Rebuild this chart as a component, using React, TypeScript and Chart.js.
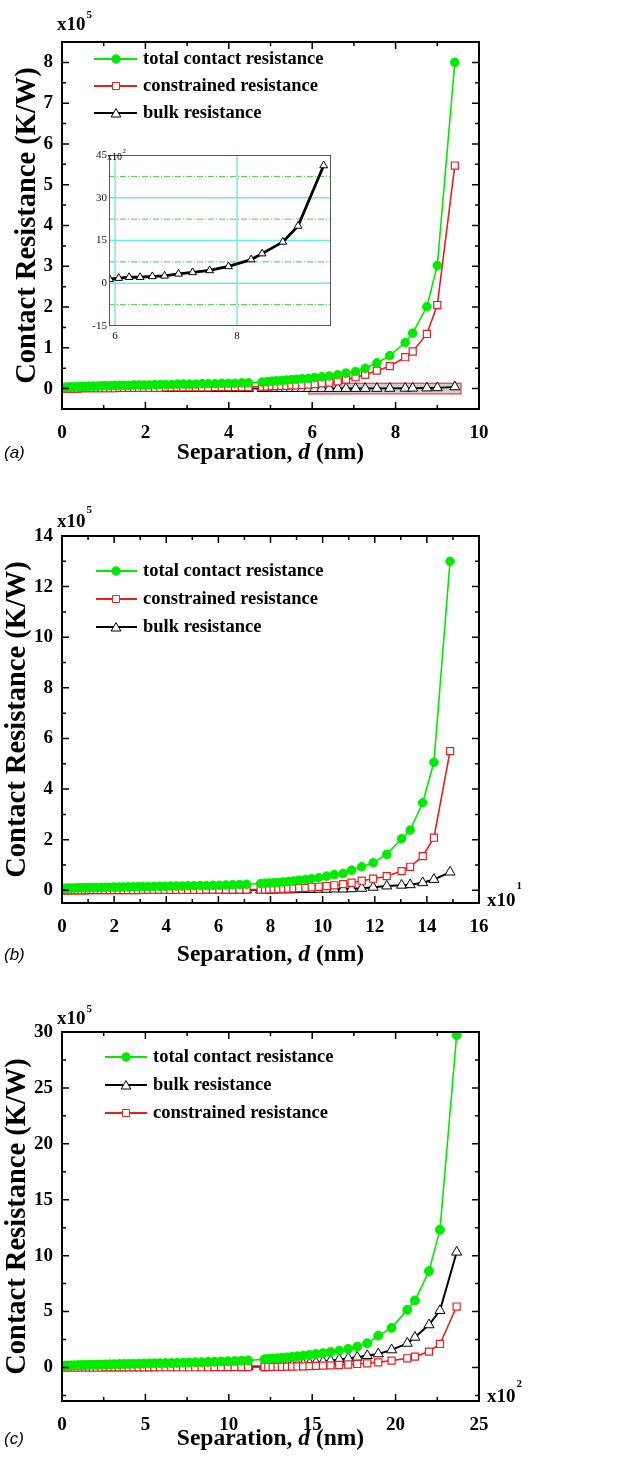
import React, { useEffect, useRef } from 'react';
import { Chart, registerables } from 'chart.js';

Chart.register(...registerables);

const SERIF = '"Liberation Serif", "Times New Roman", Times, serif';
const SANS = '"Liberation Sans", Arial, Helvetica, sans-serif';
const GREEN = 'rgb(0, 235, 0)';
const RED = 'rgb(235, 30, 30)';
const BLACK = '#000000';

// ---------------- Panel (a) ----------------
const dA = [
  0.00, 0.07, 0.14, 0.22, 0.30, 0.38, 0.47, 0.56, 0.65, 0.75,
  0.85, 0.95, 1.05, 1.16, 1.27, 1.38, 1.49, 1.61, 1.73, 1.85,
  1.97, 2.10, 2.23, 2.36, 2.49, 2.63, 2.77, 2.91, 3.06, 3.21,
  3.36, 3.51, 3.67, 3.83, 3.99, 4.15, 4.31, 4.47,
  4.80, 4.92, 5.03, 5.14, 5.26, 5.38, 5.50, 5.62, 5.76, 5.91,
  6.06, 6.23, 6.41, 6.61, 6.81, 7.04, 7.27, 7.55, 7.86, 8.23,
  8.41, 8.75, 9.00, 9.42,
];
const totalA = [
  0.03, 0.03, 0.04, 0.04, 0.04, 0.05, 0.05, 0.05, 0.06, 0.06,
  0.06, 0.07, 0.07, 0.07, 0.08, 0.08, 0.08, 0.08, 0.09, 0.09,
  0.09, 0.09, 0.10, 0.10, 0.10, 0.10, 0.11, 0.11, 0.11, 0.11,
  0.12, 0.12, 0.12, 0.13, 0.13, 0.13, 0.14, 0.14,
  0.16, 0.17, 0.18, 0.19, 0.20, 0.21, 0.22, 0.23, 0.24, 0.25,
  0.27, 0.29, 0.31, 0.34, 0.38, 0.42, 0.50, 0.63, 0.81, 1.13,
  1.36, 2.01, 3.02, 8.00,
];
const constrainedA = [
  0.00, 0.00, 0.00, 0.00, 0.00, 0.00, 0.01, 0.01, 0.01, 0.01,
  0.01, 0.01, 0.01, 0.01, 0.01, 0.02, 0.02, 0.02, 0.02, 0.02,
  0.02, 0.02, 0.02, 0.02, 0.03, 0.03, 0.03, 0.03, 0.03, 0.03,
  0.03, 0.03, 0.04, 0.04, 0.04, 0.04, 0.04, 0.04,
  0.05, 0.05, 0.06, 0.06, 0.07, 0.07, 0.08, 0.08, 0.09, 0.10,
  0.11, 0.13, 0.15, 0.18, 0.22, 0.28, 0.34, 0.44, 0.55, 0.77,
  0.91, 1.34, 2.05, 5.47,
];
// bulk resistance of panel (a) in units of 10^2 K/W (as read on the inset)
const bulkA_e2 = [
  0.3, 0.3, 0.3, 0.3, 0.3, 0.3, 0.4, 0.4, 0.4, 0.4,
  0.4, 0.4, 0.4, 0.4, 0.5, 0.5, 0.5, 0.5, 0.5, 0.5,
  0.5, 0.5, 0.6, 0.6, 0.6, 0.6, 0.6, 0.6, 0.6, 0.7,
  0.7, 0.7, 0.7, 0.7, 0.7, 0.8, 0.8, 0.8,
  0.9, 0.9, 1.0, 1.0, 1.1, 1.1, 1.2, 1.2, 1.3, 1.4,
  1.8, 2.1, 2.1, 2.4, 2.6, 3.3, 3.8, 4.5, 5.9, 8.3,
  10.4, 14.5, 20.1, 41.3,
];
const xTicksA = [0, 2, 4, 6, 8, 10];
const xMinorA = [1, 3, 5, 7, 9];
const yTicksA = [0, 1, 2, 3, 4, 5, 6, 7, 8];
const yMinorA = [0.5, 1.5, 2.5, 3.5, 4.5, 5.5, 6.5, 7.5];
// inset of panel (a)
const insetXTicks = [6, 8];
const insetYTicks = [-15, 0, 15, 30, 45];
const insetYMinor = [-7.5, 7.5, 22.5, 37.5];

// ---------------- Panel (b) ----------------
const dB = [
  0.00, 0.11, 0.22, 0.35, 0.48, 0.61, 0.75, 0.89, 1.03, 1.18,
  1.34, 1.50, 1.66, 1.83, 2.00, 2.18, 2.36, 2.54, 2.73, 2.92,
  3.11, 3.31, 3.52, 3.73, 3.94, 4.16, 4.38, 4.61, 4.84, 5.07,
  5.30, 5.54, 5.79, 6.04, 6.29, 6.55, 6.81, 7.08,
  7.62, 7.79, 7.95, 8.12, 8.30, 8.49, 8.68, 8.88, 9.10, 9.34,
  9.58, 9.85, 10.15, 10.45, 10.79, 11.11, 11.50, 11.94, 12.46, 13.03,
  13.36, 13.84, 14.27, 14.89,
];
const totalB = [
  0.08, 0.08, 0.09, 0.09, 0.09, 0.10, 0.10, 0.10, 0.11, 0.11,
  0.11, 0.12, 0.12, 0.12, 0.13, 0.13, 0.13, 0.14, 0.14, 0.14,
  0.15, 0.15, 0.15, 0.16, 0.16, 0.17, 0.17, 0.17, 0.18, 0.18,
  0.19, 0.19, 0.20, 0.20, 0.21, 0.22, 0.23, 0.24,
  0.27, 0.28, 0.29, 0.30, 0.31, 0.33, 0.35, 0.37, 0.40, 0.43,
  0.46, 0.50, 0.56, 0.62, 0.67, 0.80, 0.93, 1.09, 1.42, 2.04,
  2.38, 3.46, 5.06, 13.00,
];
const constrainedB = [
  0.00, 0.00, 0.00, 0.00, 0.00, 0.00, 0.00, 0.00, 0.01, 0.01,
  0.01, 0.01, 0.01, 0.01, 0.01, 0.01, 0.01, 0.01, 0.01, 0.01,
  0.02, 0.02, 0.02, 0.02, 0.02, 0.02, 0.02, 0.02, 0.02, 0.02,
  0.02, 0.03, 0.03, 0.03, 0.03, 0.03, 0.03, 0.03,
  0.03, 0.03, 0.04, 0.04, 0.05, 0.06, 0.07, 0.08, 0.09, 0.10,
  0.12, 0.14, 0.17, 0.20, 0.25, 0.30, 0.38, 0.46, 0.56, 0.76,
  0.93, 1.35, 2.08, 5.50,
];
const bulkB = [
  0.00, 0.00, 0.00, 0.00, 0.00, 0.00, 0.00, 0.00, 0.00, 0.00,
  0.00, 0.00, 0.00, 0.00, 0.00, 0.00, 0.00, 0.00, 0.00, 0.00,
  0.00, 0.00, 0.00, 0.00, 0.00, 0.00, 0.01, 0.01, 0.01, 0.01,
  0.01, 0.01, 0.01, 0.01, 0.01, 0.01, 0.01, 0.01,
  0.01, 0.01, 0.01, 0.01, 0.02, 0.02, 0.02, 0.02, 0.03, 0.03,
  0.03, 0.04, 0.04, 0.05, 0.05, 0.06, 0.08, 0.12, 0.17, 0.20,
  0.22, 0.30, 0.43, 0.72,
];
const xTicksB = [0, 2, 4, 6, 8, 10, 12, 14, 16];
const xMinorB = [1, 3, 5, 7, 9, 11, 13, 15];
const yTicksB = [0, 2, 4, 6, 8, 10, 12, 14];
const yMinorB = [1, 3, 5, 7, 9, 11, 13];

// ---------------- Panel (c) ----------------
const dC = [
  0.00, 0.18, 0.36, 0.55, 0.75, 0.96, 1.17, 1.39, 1.62, 1.86,
  2.10, 2.35, 2.61, 2.87, 3.14, 3.42, 3.70, 3.99, 4.29, 4.59,
  4.90, 5.22, 5.54, 5.87, 6.21, 6.55, 6.90, 7.26, 7.62, 7.99,
  8.37, 8.75, 9.14, 9.54, 9.94, 10.35, 10.76, 11.16,
  12.14, 12.37, 12.63, 12.92, 13.18, 13.49, 13.79, 14.12, 14.46, 14.84,
  15.22, 15.65, 16.10, 16.62, 17.16, 17.70, 18.30, 18.96, 19.76, 20.70,
  21.16, 22.00, 22.66, 23.66,
];
const totalC = [
  0.15, 0.16, 0.17, 0.18, 0.19, 0.20, 0.21, 0.22, 0.23, 0.24,
  0.25, 0.26, 0.27, 0.28, 0.29, 0.30, 0.31, 0.32, 0.33, 0.34,
  0.35, 0.36, 0.37, 0.38, 0.39, 0.40, 0.41, 0.43, 0.44, 0.46,
  0.47, 0.49, 0.51, 0.53, 0.55, 0.57, 0.60, 0.62,
  0.73, 0.76, 0.79, 0.82, 0.86, 0.90, 0.95, 1.00, 1.06, 1.12,
  1.20, 1.28, 1.38, 1.50, 1.66, 1.86, 2.16, 2.85, 3.54, 5.15,
  5.99, 8.61, 12.32, 29.73,
];
const bulkC = [
  0.00, 0.00, 0.00, 0.00, 0.01, 0.01, 0.01, 0.01, 0.01, 0.02,
  0.02, 0.02, 0.02, 0.02, 0.03, 0.03, 0.03, 0.03, 0.04, 0.04,
  0.04, 0.04, 0.05, 0.05, 0.05, 0.05, 0.06, 0.06, 0.06, 0.07,
  0.07, 0.07, 0.08, 0.08, 0.08, 0.09, 0.09, 0.09,
  0.10, 0.11, 0.12, 0.14, 0.16, 0.19, 0.22, 0.26, 0.31, 0.37,
  0.44, 0.52, 0.61, 0.72, 0.82, 0.91, 1.06, 1.21, 1.57, 2.16,
  2.70, 3.81, 5.09, 10.31,
];
const constrainedC = [
  0.00, 0.00, 0.00, 0.00, 0.00, 0.00, 0.00, 0.00, 0.00, 0.00,
  0.00, 0.00, 0.01, 0.01, 0.01, 0.01, 0.01, 0.01, 0.01, 0.01,
  0.01, 0.01, 0.01, 0.02, 0.02, 0.02, 0.02, 0.02, 0.02, 0.02,
  0.02, 0.02, 0.03, 0.03, 0.03, 0.03, 0.03, 0.03,
  0.04, 0.04, 0.05, 0.05, 0.06, 0.07, 0.08, 0.09, 0.10, 0.12,
  0.14, 0.16, 0.19, 0.22, 0.26, 0.31, 0.37, 0.46, 0.61, 0.82,
  0.97, 1.42, 2.10, 5.45,
];
const xTicksC = [0, 5, 10, 15, 20, 25];
const xMinorC = [2.5, 7.5, 12.5, 17.5, 22.5];
const yTicksC = [0, 5, 10, 15, 20, 25, 30];
const yMinorC = [-2.5, 2.5, 7.5, 12.5, 17.5, 22.5, 27.5];

const LABEL_TOTAL = 'total contact resistance';
const LABEL_CONSTR = 'constrained resistance';
const LABEL_BULK = 'bulk resistance';

// ---------------------------------------------------------------
function pts(xs: number[], ys: number[], k = 1) {
  return xs.map((x, i) => ({ x, y: ys[i] * k }));
}

function totalSet(xs: number[], ys: number[], r = 4.3) {
  return {
    label: LABEL_TOTAL, data: pts(xs, ys), borderColor: GREEN, backgroundColor: GREEN,
    pointBackgroundColor: GREEN, pointBorderColor: GREEN, pointBorderWidth: 1,
    pointStyle: 'circle', pointRadius: r, borderWidth: 1.6, order: 0,
  };
}
function constrSet(xs: number[], ys: number[]) {
  return {
    label: LABEL_CONSTR, data: pts(xs, ys), borderColor: RED, backgroundColor: RED,
    pointBackgroundColor: '#ffffff', pointBorderColor: RED, pointBorderWidth: 1.2,
    pointStyle: 'rect', pointRadius: 5.0, borderWidth: 1.6, order: 1,
  };
}
function bulkSet(xs: number[], ys: number[], k = 1, lw = 1.8) {
  return {
    label: LABEL_BULK, data: pts(xs, ys, k), borderColor: BLACK, backgroundColor: BLACK,
    pointBackgroundColor: '#ffffff', pointBorderColor: BLACK, pointBorderWidth: 1,
    pointStyle: 'triangle', pointRadius: 5.8, borderWidth: lw, order: 2,
  };
}

function drawMarker(ctx: CanvasRenderingContext2D, style: string, x: number, y: number, r: number,
  fill: string, stroke: string) {
  ctx.beginPath();
  if (style === 'circle') {
    ctx.arc(x, y, r, 0, Math.PI * 2);
  } else if (style === 'rect') {
    const s = r * Math.SQRT1_2;
    ctx.rect(x - s, y - s, 2 * s, 2 * s);
  } else {
    let a = 0;
    ctx.moveTo(x + Math.sin(a) * r, y - Math.cos(a) * r);
    a += (2 * Math.PI) / 3;
    ctx.lineTo(x + Math.sin(a) * r, y - Math.cos(a) * r);
    a += (2 * Math.PI) / 3;
    ctx.lineTo(x + Math.sin(a) * r, y - Math.cos(a) * r);
    ctx.closePath();
  }
  ctx.fillStyle = fill;
  ctx.fill();
  ctx.lineWidth = 1;
  ctx.strokeStyle = stroke;
  ctx.stroke();
}

function drawExp(ctx: CanvasRenderingContext2D, x: number, base: number, supBase: number, exp: string, size = 19, supSize = 11) {
  ctx.save();
  ctx.fillStyle = '#000';
  ctx.textAlign = 'left';
  ctx.textBaseline = 'alphabetic';
  ctx.font = `bold ${size}px ${SERIF}`;
  ctx.fillText('x10', x, base);
  const w = ctx.measureText('x10').width;
  ctx.font = `bold ${supSize}px ${SERIF}`;
  ctx.fillText(exp, x + w + 1, supBase);
  ctx.restore();
}

type LegendItem = { label: string; color: string; style: string; r: number; fill: string; lw: number };

type Decor = {
  xMajor: number[]; xMinor: number[]; yMajor: number[]; yMinor: number[];
  yTitleX: number; xTitleBase: number;
  letter: string; letterBase: number;
  yExp: [number, number, number, string];
  xExp?: [number, number, number, string];
  legend: { x0: number; mx: number; x1: number; tx: number; rows: number[]; items: LegendItem[] };
  box?: { x0: number; x1: number; y0: number; y1: number };
};

const LEG_TOTAL: LegendItem = { label: LABEL_TOTAL, color: GREEN, style: 'circle', r: 4.2, fill: GREEN, lw: 1.8 };
const LEG_CONSTR: LegendItem = { label: LABEL_CONSTR, color: RED, style: 'rect', r: 5, fill: '#ffffff', lw: 2 };
const LEG_BULK: LegendItem = { label: LABEL_BULK, color: BLACK, style: 'triangle', r: 5.6, fill: '#ffffff', lw: 2 };

function makeDecor(d: Decor) {
  return {
    id: 'decor',
    beforeDatasetsDraw(chart: any) {
      if (!d.box) return;
      const { ctx } = chart;
      const xs = chart.scales.x, ys = chart.scales.y;
      const l = xs.getPixelForValue(d.box.x0), r = xs.getPixelForValue(d.box.x1);
      const t = ys.getPixelForValue(d.box.y1), b = ys.getPixelForValue(d.box.y0);
      ctx.save();
      ctx.fillStyle = 'rgba(165,165,165,0.55)';
      ctx.fillRect(l, t, r - l, b - t);
      ctx.strokeStyle = 'rgba(230,70,70,0.95)';
      ctx.lineWidth = 1.3;
      ctx.strokeRect(l, t, r - l, b - t);
      ctx.restore();
    },
    afterDraw(chart: any) {
      const { ctx, chartArea: a } = chart;
      const xs = chart.scales.x, ys = chart.scales.y;
      ctx.save();
      // inward ticks on all four sides
      ctx.strokeStyle = '#000';
      ctx.lineWidth = 1.5;
      ctx.beginPath();
      const xt = (vals: number[], len: number) => {
        for (const v of vals) {
          const p = xs.getPixelForValue(v);
          ctx.moveTo(p, a.bottom); ctx.lineTo(p, a.bottom - len);
          ctx.moveTo(p, a.top); ctx.lineTo(p, a.top + len);
        }
      };
      const yt = (vals: number[], len: number) => {
        for (const v of vals) {
          const p = ys.getPixelForValue(v);
          ctx.moveTo(a.left, p); ctx.lineTo(a.left + len, p);
          ctx.moveTo(a.right, p); ctx.lineTo(a.right - len, p);
        }
      };
      xt(d.xMajor, 7); xt(d.xMinor, 4);
      yt(d.yMajor, 7); yt(d.yMinor, 4);
      ctx.stroke();
      ctx.lineWidth = 2;
      ctx.strokeRect(a.left, a.top, a.right - a.left, a.bottom - a.top);

      // y title
      ctx.fillStyle = '#000';
      ctx.save();
      ctx.translate(d.yTitleX, (a.top + a.bottom) / 2);
      ctx.rotate(-Math.PI / 2);
      ctx.font = `bold 28.5px ${SERIF}`;
      ctx.textAlign = 'center';
      ctx.textBaseline = 'middle';
      ctx.fillText('Contact Resistance (K/W)', 0, 0);
      ctx.restore();

      // x title with italic d
      const f1 = `bold 23.5px ${SERIF}`;
      const f2 = `italic bold 23.5px ${SERIF}`;
      const p1 = 'Separation, ', p2 = 'd', p3 = ' (nm)';
      ctx.textAlign = 'left';
      ctx.textBaseline = 'alphabetic';
      ctx.font = f1; const w1 = ctx.measureText(p1).width; const w3 = ctx.measureText(p3).width;
      ctx.font = f2; const w2 = ctx.measureText(p2).width;
      let x = (a.left + a.right) / 2 - (w1 + w2 + w3) / 2;
      ctx.font = f1; ctx.fillText(p1, x, d.xTitleBase); x += w1;
      ctx.font = f2; ctx.fillText(p2, x, d.xTitleBase); x += w2;
      ctx.font = f1; ctx.fillText(p3, x, d.xTitleBase);

      // panel letter
      ctx.font = `italic 17px ${SANS}`;
      ctx.fillText(d.letter, 4, d.letterBase);

      // exponent labels
      drawExp(ctx, d.yExp[0], d.yExp[1], d.yExp[2], d.yExp[3]);
      if (d.xExp) drawExp(ctx, d.xExp[0], d.xExp[1], d.xExp[2], d.xExp[3]);

      // legend
      const L = d.legend;
      L.items.forEach((it, i) => {
        const y = L.rows[i];
        ctx.strokeStyle = it.color;
        ctx.lineWidth = it.lw;
        ctx.beginPath();
        ctx.moveTo(L.x0, y); ctx.lineTo(L.x1, y);
        ctx.stroke();
        drawMarker(ctx, it.style, L.mx, it.style === 'triangle' ? y + 1.2 : y, it.r, it.fill, it.color);
        ctx.fillStyle = '#000';
        ctx.font = `bold 18.5px ${SERIF}`;
        ctx.textAlign = 'left';
        ctx.textBaseline = 'middle';
        ctx.fillText(it.label, L.tx, y);
      });
      ctx.restore();
    },
  };
}

function mainConfig(opts: {
  datasets: any[]; xMax: number; yMin: number; yMax: number;
  xTicks: number[]; yTicks: number[]; top: number; xAxisH: number; decor: Decor;
}) {
  const tickFont = { family: SERIF, size: 19, weight: 'bold' as const };
  return {
    type: 'line' as const,
    data: { datasets: opts.datasets },
    options: {
      responsive: false,
      animation: false as const,
      devicePixelRatio: 1,
      events: [],
      layout: { padding: { left: 0, right: 142, top: opts.top, bottom: 0 } },
      plugins: { legend: { display: false }, tooltip: { enabled: false } },
      scales: {
        x: {
          type: 'linear' as const, min: 0, max: opts.xMax,
          grid: { display: false, drawTicks: false },
          border: { display: false },
          ticks: { font: tickFont, color: '#000', padding: 13, maxRotation: 0, autoSkip: false },
          afterBuildTicks: (s: any) => { s.ticks = opts.xTicks.map((v) => ({ value: v })); },
          afterFit: (s: any) => { s.height = opts.xAxisH; },
        },
        y: {
          type: 'linear' as const, min: opts.yMin, max: opts.yMax,
          grid: { display: false, drawTicks: false },
          border: { display: false },
          ticks: { font: tickFont, color: '#000', padding: 9, autoSkip: false },
          afterBuildTicks: (s: any) => { s.ticks = opts.yTicks.map((v) => ({ value: v })); },
          afterFit: (s: any) => { s.width = 62; },
        },
      },
    },
    plugins: [makeDecor(opts.decor)],
  };
}

const insetPlugin = {
  id: 'insetDecor',
  beforeDatasetsDraw(chart: any) {
    const { ctx, chartArea: a } = chart;
    const xs = chart.scales.x, ys = chart.scales.y;
    ctx.save();
    ctx.fillStyle = '#ffffff';
    ctx.fillRect(a.left, a.top, a.right - a.left, a.bottom - a.top);
    // minor (dash-dot green) horizontal lines
    ctx.strokeStyle = 'rgb(60, 215, 60)';
    ctx.lineWidth = 1;
    ctx.setLineDash([6, 2, 1, 2]);
    ctx.beginPath();
    for (const v of insetYMinor) {
      const p = ys.getPixelForValue(v);
      ctx.moveTo(a.left, p); ctx.lineTo(a.right, p);
    }
    ctx.stroke();
    // major (cyan) lines
    ctx.setLineDash([]);
    ctx.strokeStyle = 'rgb(110, 232, 240)';
    ctx.lineWidth = 1.4;
    ctx.beginPath();
    for (const v of insetYTicks) {
      if (v === insetYTicks[0] || v === insetYTicks[insetYTicks.length - 1]) continue;
      const p = ys.getPixelForValue(v);
      ctx.moveTo(a.left, p); ctx.lineTo(a.right, p);
    }
    for (const v of insetXTicks) {
      const p = xs.getPixelForValue(v);
      ctx.moveTo(p, a.top); ctx.lineTo(p, a.bottom);
    }
    ctx.stroke();
    ctx.restore();
  },
  afterDraw(chart: any) {
    const { ctx, chartArea: a } = chart;
    ctx.save();
    ctx.strokeStyle = '#555';
    ctx.lineWidth = 1;
    ctx.strokeRect(a.left + 0.5, a.top + 0.5, a.right - a.left - 1, a.bottom - a.top - 1);
    ctx.fillStyle = '#000';
    ctx.textAlign = 'left';
    ctx.textBaseline = 'alphabetic';
    ctx.font = `10px ${SERIF}`;
    ctx.fillText('x10', 22, 20);
    const w = ctx.measureText('x10').width;
    ctx.font = `7px ${SERIF}`;
    ctx.fillText('2', 22 + w + 0.5, 13);
    ctx.restore();
  },
};

function insetConfig() {
  const f = { family: SERIF, size: 11 };
  return {
    type: 'line' as const,
    data: {
      datasets: [{
        label: LABEL_BULK, data: pts(dA, bulkA_e2), borderColor: BLACK, backgroundColor: BLACK,
        pointBackgroundColor: '#ffffff', pointBorderColor: BLACK, pointBorderWidth: 1,
        pointStyle: 'triangle', pointRadius: 4.5, borderWidth: 2.8,
      }],
    },
    options: {
      responsive: false,
      animation: false as const,
      devicePixelRatio: 1,
      events: [],
      layout: { padding: { left: 0, right: 14, top: 15, bottom: 0 } },
      plugins: { legend: { display: false }, tooltip: { enabled: false } },
      scales: {
        x: {
          type: 'linear' as const, min: 5.9, max: 9.54,
          grid: { display: false, drawTicks: false }, border: { display: false },
          ticks: { font: f, color: '#111', padding: 4, maxRotation: 0, autoSkip: false },
          afterBuildTicks: (s: any) => { s.ticks = insetXTicks.map((v) => ({ value: v })); },
          afterFit: (s: any) => { s.height = 29; },
        },
        y: {
          type: 'linear' as const, min: -15, max: 45,
          grid: { display: false, drawTicks: false }, border: { display: false },
          ticks: { font: f, color: '#111', padding: 2, autoSkip: false },
          afterBuildTicks: (s: any) => { s.ticks = insetYTicks.map((v) => ({ value: v })); },
          afterFit: (s: any) => { s.width = 24; },
        },
      },
    },
    plugins: [insetPlugin],
  };
}

export default function App() {
  const refA = useRef<HTMLCanvasElement>(null);
  const refIn = useRef<HTMLCanvasElement>(null);
  const refB = useRef<HTMLCanvasElement>(null);
  const refC = useRef<HTMLCanvasElement>(null);

  useEffect(() => {
    const charts: Chart[] = [];
    charts.push(new Chart(refA.current as HTMLCanvasElement, mainConfig({
      datasets: [totalSet(dA, totalA), constrSet(dA, constrainedA), bulkSet(dA, bulkA_e2, 1 / 1000, 1.8)],
      xMax: 10, yMin: -0.5, yMax: 8.5, xTicks: xTicksA, yTicks: yTicksA, top: 42, xAxisH: 79,
      decor: {
        xMajor: xTicksA, xMinor: xMinorA, yMajor: yTicksA, yMinor: yMinorA,
        yTitleX: 28, xTitleBase: 459, letter: '(a)', letterBase: 458,
        yExp: [57, 30, 18, '5'],
        legend: { x0: 94, mx: 116, x1: 137, tx: 143, rows: [59, 86, 113], items: [LEG_TOTAL, LEG_CONSTR, LEG_BULK] },
        box: { x0: 5.92, x1: 9.57, y0: -0.13, y1: 0.13 },
      },
    }) as any));
    charts.push(new Chart(refIn.current as HTMLCanvasElement, insetConfig() as any));
    charts.push(new Chart(refB.current as HTMLCanvasElement, mainConfig({
      datasets: [totalSet(dB, totalB), constrSet(dB, constrainedB), bulkSet(dB, bulkB, 1, 2)],
      xMax: 16, yMin: -0.5, yMax: 14, xTicks: xTicksB, yTicks: yTicksB, top: 48, xAxisH: 75,
      decor: {
        xMajor: xTicksB, xMinor: xMinorB, yMajor: yTicksB, yMinor: yMinorB,
        yTitleX: 18, xTitleBase: 473, letter: '(b)', letterBase: 472,
        yExp: [57, 39, 25, '5'],
        xExp: [487, 418, 401, '1'],
        legend: { x0: 96, mx: 116, x1: 137, tx: 143, rows: [83, 111, 139], items: [LEG_TOTAL, LEG_CONSTR, LEG_BULK] },
      },
    }) as any));
    charts.push(new Chart(refC.current as HTMLCanvasElement, mainConfig({
      datasets: [totalSet(dC, totalC, 4.5), constrSet(dC, constrainedC), bulkSet(dC, bulkC, 1, 2)],
      xMax: 25, yMin: -3, yMax: 30, xTicks: xTicksC, yTicks: yTicksC, top: 54, xAxisH: 61,
      decor: {
        xMajor: xTicksC, xMinor: xMinorC, yMajor: yTicksC, yMinor: yMinorC,
        yTitleX: 18, xTitleBase: 467, letter: '(c)', letterBase: 466,
        yExp: [57, 46, 34, '5'],
        xExp: [487, 424, 409, '2'],
        legend: { x0: 105, mx: 126, x1: 147, tx: 153, rows: [79, 107, 135], items: [LEG_TOTAL, LEG_BULK, LEG_CONSTR] },
      },
    }) as any));
    return () => { charts.forEach((c) => c.destroy()); };
  }, []);

  return (
    <div style={{ position: 'absolute', left: 0, top: 0, width: 621, height: 1462, background: '#ffffff', overflow: 'hidden' }}>
      <canvas ref={refA} width={621} height={488} style={{ position: 'absolute', left: 0, top: 0 }} />
      <canvas ref={refIn} width={260} height={215} style={{ position: 'absolute', left: 85, top: 140 }} />
      <canvas ref={refB} width={621} height={490} style={{ position: 'absolute', left: 0, top: 488 }} />
      <canvas ref={refC} width={621} height={484} style={{ position: 'absolute', left: 0, top: 978 }} />
    </div>
  );
}
